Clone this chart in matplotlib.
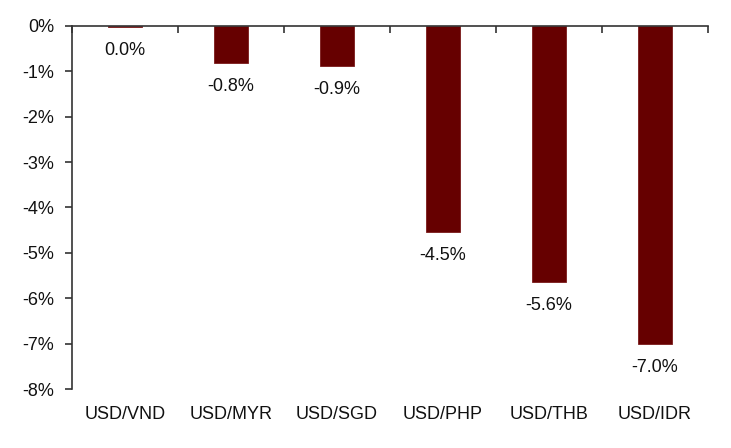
import matplotlib
matplotlib.use("Agg")
import matplotlib.pyplot as plt
import numpy as np
from matplotlib.ticker import FuncFormatter

categories = ["USD/VND", "USD/MYR", "USD/SGD", "USD/PHP", "USD/THB", "USD/IDR"]
values = [-0.02, -0.81, -0.88, -4.54, -5.64, -7.01]
yticks = [0, -1, -2, -3, -4, -5, -6, -7, -8]

plt.rcParams['font.family'] = ['Liberation Sans', 'DejaVu Sans']

fig = plt.figure(figsize=(7.31, 4.48), dpi=100)
ax = fig.add_axes([72/731, 1-389/448, 636/731, (389-26)/448])

x = np.arange(len(categories))
ax.bar(x, values, width=0.32, color="#660000", edgecolor="#7a1a1a", linewidth=0.6, zorder=2)

for xi, v in zip(x, values):
    ax.annotate(f"{round(v, 1) + 0:.1f}%", (xi, v), xytext=(0, -17), textcoords="offset points",
                ha="center", va="center", fontsize=13, color="#111111")

ax.set_xlim(-0.5, len(categories) - 0.5)
ax.set_ylim(-8, 0)
ax.set_yticks(yticks)
ax.yaxis.set_major_formatter(FuncFormatter(lambda v, p: f"{v:.0f}%"))
ax.set_xticks(x)
ax.set_xticklabels(categories)

for s in ["right", "bottom"]:
    ax.spines[s].set_visible(False)
for s in ["left", "top"]:
    ax.spines[s].set_color("#333333")
    ax.spines[s].set_linewidth(1.2)

ax.tick_params(axis="y", direction="out", length=5, width=1.2, color="#333333",
               labelsize=13, pad=8, labelcolor="#111111")
ax.tick_params(axis="x", length=0, labelsize=13, pad=12, labelcolor="#111111")

sec = ax.secondary_xaxis("top")
sec.set_xticks(np.arange(len(categories) + 1) - 0.5)
sec.tick_params(direction="in", length=5, width=1.2, color="#333333", labeltop=False)
sec.spines["top"].set_visible(False)

fig.savefig("out.png", dpi=100)
